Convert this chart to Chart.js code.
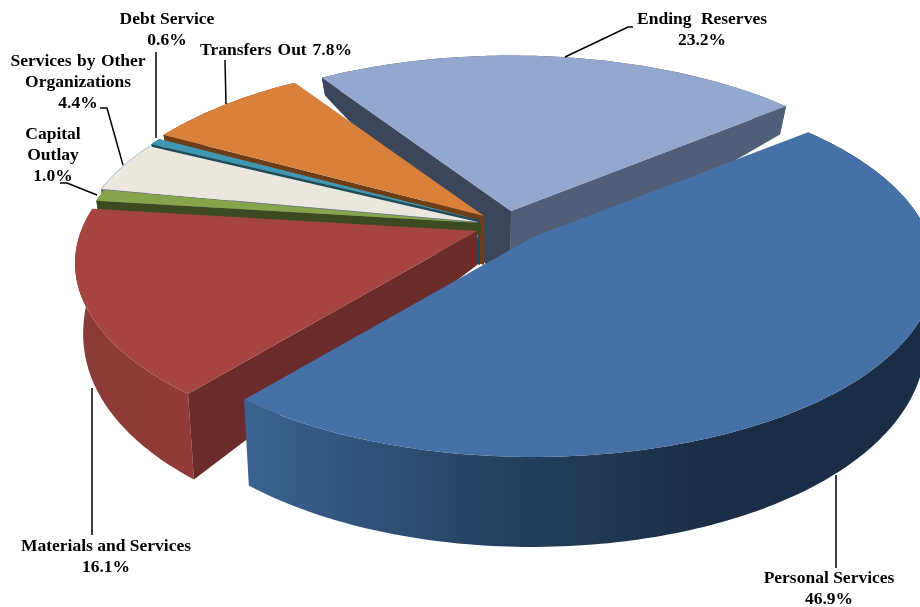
<!DOCTYPE html>
<html>
<head>
<meta charset="utf-8">
<title>Budget by category</title>
<script src="https://cdn.jsdelivr.net/npm/chart.js@4"></script>
<style>
  html, body { margin: 0; padding: 0; background: #fff; }
  canvas { display: block; }
</style>
</head>
<body>
<canvas id="budgetPie" width="920" height="607"></canvas>
<script>
// Budget shares, clockwise from the upper right
const categories = ['Personal Services', 'Materials and Services', 'Capital Outlay',
  'Services by Other Organizations', 'Debt Service', 'Transfers Out', 'Ending Reserves'];
const shares = [46.9, 16.1, 1.0, 4.4, 0.6, 7.8, 23.2];

const topColors = ['#4571a6', '#a64442', '#86a54a', '#e9e7de', '#3f97b3', '#d9803b', '#94a7cf'];
const startWallColors = ['#2a4565', '#6c2b2b', '#3c4a22', '#6d7080', '#1e4a5a', '#6c3d17', '#3c465a'];
const endWallColors = ['#2a4565', '#6c2b2b', '#3c4a22', '#6d7080', '#1e4a5a', '#6c3d17', '#515e78'];

// Where each wedge tip sits relative to the pie centre, on screen
const wedgeShift = [[51, 9], [-5, 3], [-1, -5], [-4, -6], [-2, -8], [2, -12], [29, -17]];
// Screen height the wall reaches under each wedge tip
const wallFloors = [265, 265, 234, 238, 265, 265, 290];
// Back to front, so nearer wedges cover the walls behind them
const paintOrder = [6, 5, 4, 3, 2, 1, 0];

const TILT = 0.46;
const CAMERA = 2305;

// Label blocks: centre x, first baseline, optional word spacing
const labelBlocks = [
  { i: 6, lines: ['Ending Reserves', '%'], x: 702, y: 24, gap: '5px' },
  { i: 4, lines: ['Debt Service', '%'], x: 167, y: 24 },
  { i: 5, lines: ['Transfers Out %'], x: 276, y: 55, gap: '1.5px' },
  { i: 3, lines: ['Services by Other', 'Organizations', '%'], x: 78, y: 66, gap: '1px' },
  { i: 2, lines: ['Capital', 'Outlay', '%'], x: 53, y: 139 },
  { i: 1, lines: ['Materials and Services', '%'], x: 106, y: 551 },
  { i: 0, lines: ['Personal Services', '%'], x: 829, y: 583 }
];
const leaderLines = [
  [[565, 57], [628, 27], [633, 27]],
  [[156, 138], [156, 52]],
  [[226, 104], [225, 60]],
  [[123, 165], [107, 108], [100, 108]],
  [[97, 195], [67, 183], [60, 183]],
  [[92, 388], [92, 535]],
  [[836, 475], [836, 568]]
];

// Perspective view of one wedge, anchored at its own tip
function wedgeProjector(tipX, tipY, floorY, radius, centerX) {
  const tipDepth = floorY - tipY;
  return function(a, r) {
    const px = r * Math.cos(a);
    const v = r * Math.sin(a);
    const s = CAMERA / (CAMERA - v);
    const x = tipX + px * s;
    const y = tipY + v * TILT * s;
    const rr = r / radius;
    const vv = v / radius;
    const depth = tipDepth * (1 - rr) + rr * 60 + (vv > 0 ? 30 * Math.pow(vv, 0.6) : 50 * vv);
    return { x, y, bx: x + (centerX - x) * 0.02, by: y + depth };
  };
}

function fillPoly(ctx, pts, fill) {
  ctx.beginPath();
  pts.forEach((p, n) => (n ? ctx.lineTo(p[0], p[1]) : ctx.moveTo(p[0], p[1])));
  ctx.closePath();
  ctx.fillStyle = fill;
  ctx.fill();
}

function rimWallFill(ctx, index) {
  if (index === 0) {
    const g = ctx.createLinearGradient(245, 0, 720, 0);
    g.addColorStop(0, '#3a6391');
    g.addColorStop(0.55, '#24405f');
    g.addColorStop(1, '#1a2d44');
    return g;
  }
  if (index === 1) {
    const g = ctx.createLinearGradient(80, 0, 195, 0);
    g.addColorStop(0, '#8a3a37');
    g.addColorStop(1, '#933b39');
    return g;
  }
  return startWallColors[index];
}

// Draws the arcs laid out by the pie controller as solid wedges
const solidPie = {
  id: 'solidPie',
  beforeDatasetDraw(chart) {
    const ctx = chart.ctx;
    const arcs = chart.getDatasetMeta(0).data;
    paintOrder.forEach(i => {
      const arc = arcs[i];
      const R = arc.outerRadius;
      const tipX = arc.x + wedgeShift[i][0];
      const tipY = arc.y + wedgeShift[i][1];
      const project = wedgeProjector(tipX, tipY, wallFloors[i], R, arc.x);
      const rim = [];
      const steps = Math.max(4, Math.ceil((arc.endAngle - arc.startAngle) * 60));
      for (let n = 0; n <= steps; n++) {
        rim.push(project(arc.startAngle + (arc.endAngle - arc.startAngle) * n / steps, R));
      }
      const tip = project(arc.startAngle, 0);
      const first = rim[0];
      const last = rim[rim.length - 1];

      ctx.save();
      // Outer wall
      const wall = rim.map(p => [p.x, p.y]).concat(rim.slice().reverse().map(p => [p.bx, p.by]));
      fillPoly(ctx, wall, rimWallFill(ctx, i));
      // Straight walls, only those facing the viewer
      if (Math.sin(arc.startAngle - Math.PI / 2) > 0) {
        fillPoly(ctx, [[tip.x, tip.y], [first.x, first.y], [first.bx, first.by], [tip.bx, tip.by]], startWallColors[i]);
      }
      if (Math.sin(arc.endAngle + Math.PI / 2) > 0) {
        fillPoly(ctx, [[tip.x, tip.y], [last.x, last.y], [last.bx, last.by], [tip.bx, tip.by]], endWallColors[i]);
      }
      // Top face
      const top = [[tip.x, tip.y]].concat(rim.map(p => [p.x, p.y]));
      fillPoly(ctx, top, topColors[i]);
      // Pale highlight along the rim of the cream wedge
      if (i === 3) {
        ctx.beginPath();
        rim.forEach((p, n) => (n ? ctx.lineTo(p.x, p.y) : ctx.moveTo(p.x, p.y)));
        ctx.strokeStyle = '#aac2da';
        ctx.lineWidth = 1;
        ctx.stroke();
      }
      ctx.restore();
    });
    return false; // wedges are done, skip the flat arcs
  },
  afterDraw(chart) {
    const ctx = chart.ctx;
    ctx.save();
    ctx.strokeStyle = '#000';
    ctx.lineWidth = 1.5;
    leaderLines.forEach(line => {
      ctx.beginPath();
      line.forEach((p, n) => (n ? ctx.lineTo(p[0], p[1]) : ctx.moveTo(p[0], p[1])));
      ctx.stroke();
    });
    ctx.fillStyle = '#000';
    ctx.font = 'bold 17.5px "Liberation Serif"';
    ctx.textAlign = 'center';
    ctx.textBaseline = 'alphabetic';
    labelBlocks.forEach(block => {
      const pct = shares[block.i].toFixed(1) + '%';
      ctx.wordSpacing = block.gap || '0px';
      block.lines.forEach((line, n) => {
        const text = line === '%' ? pct : line.replace(' %', ' ' + pct);
        ctx.fillText(text, block.x, block.y + n * 21);
      });
    });
    ctx.restore();
  }
};

new Chart(document.getElementById('budgetPie'), {
  type: 'pie',
  data: {
    labels: categories,
    datasets: [{
      data: shares,
      backgroundColor: topColors,
      borderWidth: 0
    }]
  },
  options: {
    responsive: false,
    animation: false,
    rotation: 50.4,
    radius: 396,
    layout: { padding: { left: 44, bottom: 151 } },
    plugins: { legend: { display: false }, tooltip: { enabled: false } }
  },
  plugins: [solidPie]
});
</script>
</body>
</html>
